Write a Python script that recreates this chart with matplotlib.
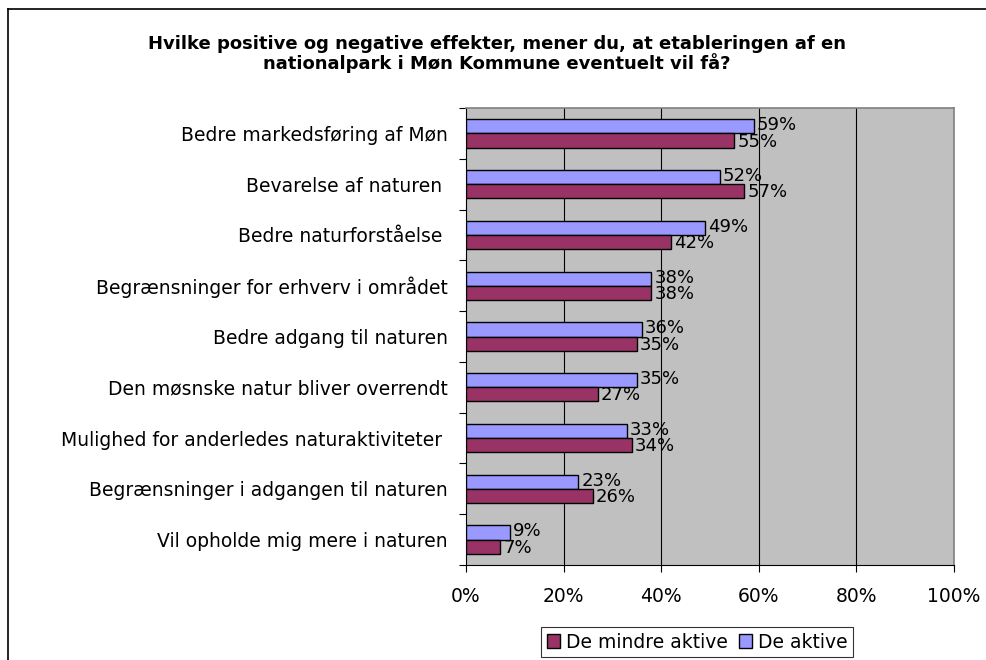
import matplotlib
matplotlib.use("Agg")
import matplotlib.pyplot as plt
import numpy as np
from matplotlib.lines import Line2D
from matplotlib.patches import Patch

categories = [
    "Bedre markedsføring af Møn",
    "Bevarelse af naturen ",
    "Bedre naturforståelse ",
    "Begrænsninger for erhverv i området",
    "Bedre adgang til naturen",
    "Den møsnske natur bliver overrendt",
    "Mulighed for anderledes naturaktiviteter ",
    "Begrænsninger i adgangen til naturen",
    "Vil opholde mig mere i naturen",
]
de_aktive = [59, 52, 49, 38, 36, 35, 33, 23, 9]
de_mindre_aktive = [55, 57, 42, 38, 35, 27, 34, 26, 7]
x_ticks = [0, 20, 40, 60, 80, 100]
x_tick_labels = ["0%", "20%", "40%", "60%", "80%", "100%"]
title = "Hvilke positive og negative effekter, mener du, at etableringen af en\nnationalpark i Møn Kommune eventuelt vil få?"

c_aktive = "#9999FF"
c_mindre = "#993366"

plt.rcParams['font.family'] = ['DejaVu Sans']

W, H = 987, 660
fig = plt.figure(figsize=(W / 100, H / 100), dpi=100)
ax = fig.add_axes([466 / W, 1 - 565 / H, (954 - 466) / W, (565 - 108) / H])
ax.set_facecolor("#C0C0C0")

n = len(categories)
y = np.arange(n)
bh = 0.28
ax.barh(y - bh / 2, de_aktive, height=bh, color=c_aktive, edgecolor="black", linewidth=1.0, zorder=3)
ax.barh(y + bh / 2, de_mindre_aktive, height=bh, color=c_mindre, edgecolor="black", linewidth=1.0, zorder=3)

for i in range(n):
    ax.text(de_aktive[i] + 0.6, y[i] - bh / 2 - 0.02, f"{de_aktive[i]}%", va="center", ha="left",
            fontsize=13, color="black", zorder=4)
    ax.text(de_mindre_aktive[i] + 0.6, y[i] + bh / 2 + 0.02, f"{de_mindre_aktive[i]}%", va="center", ha="left",
            fontsize=13, color="black", zorder=4)

ax.set_xlim(0, 100)
ax.set_ylim(n - 0.5, -0.5)

ax.set_xticks(x_ticks)
ax.set_xticklabels(x_tick_labels, fontsize=13.5)
ax.tick_params(axis="x", direction="out", length=5, width=0.8, pad=11)

ax.set_yticks(np.arange(-0.5, n, 1))
ax.set_yticklabels([])
ax.tick_params(axis="y", which="major", direction="out", length=5, width=0.8)
ax.set_yticks(y, minor=True)
ax.set_yticklabels(categories, minor=True, fontsize=13.5)
ax.tick_params(axis="y", which="minor", length=0, pad=13)

for xv in x_ticks[1:-1]:
    ax.axvline(xv, color="black", linewidth=0.8, zorder=1)

for s in ["top", "right"]:
    ax.spines[s].set_color("#808080")
    ax.spines[s].set_linewidth(1.2)
for s in ["left", "bottom"]:
    ax.spines[s].set_color("black")
    ax.spines[s].set_linewidth(0.8)

fig.text(497 / W, 1 - 54 / H, title, ha="center", va="center", fontsize=13,
         fontweight="bold", linespacing=1.05)

handles = [Patch(facecolor=c_mindre, edgecolor="black", label="De mindre aktive"),
           Patch(facecolor=c_aktive, edgecolor="black", label="De aktive")]
leg = fig.legend(handles=handles, loc="center", bbox_to_anchor=(697 / W, 1 - 642 / H), ncol=2,
                 fontsize=13.5, frameon=True, fancybox=False, edgecolor="black",
                 handlelength=0.7, handleheight=0.7, handletextpad=0.3, columnspacing=0.6,
                 borderpad=0.3, borderaxespad=0)
leg.get_frame().set_linewidth(0.8)

fig.add_artist(Line2D([8.5 / W, 8.5 / W], [0, 1 - 9 / H], color="black", linewidth=1.2))
fig.add_artist(Line2D([8 / W, 1], [1 - 9 / H, 1 - 9 / H], color="black", linewidth=1.2))

fig.savefig("out.png", dpi=100)
